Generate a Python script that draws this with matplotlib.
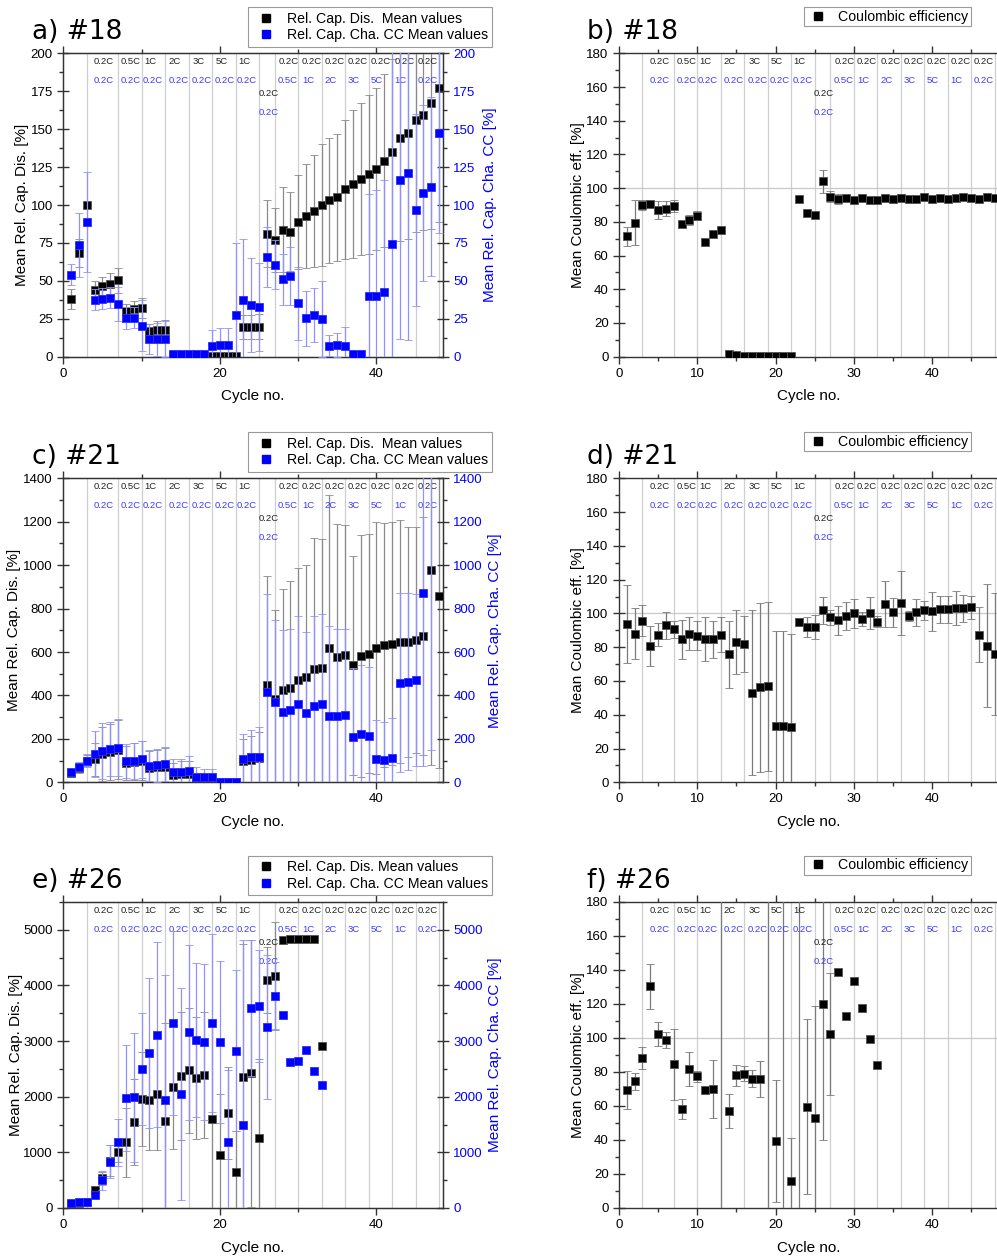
import numpy as np
import matplotlib
matplotlib.use('Agg')
import matplotlib.pyplot as plt
from matplotlib.ticker import MultipleLocator
from matplotlib.lines import Line2D

plt.rcParams['font.family'] = ['Liberation Sans', 'DejaVu Sans']

nan = np.nan
# ---------------- data ----------------
cycles48 = np.arange(1, 49)
cycles33 = np.arange(1, 34)

# a) #18
dis_a = [38, 68.4, 100, 44, 46.4, 48, 50.3, 29.8, 31.3, 32.2, 16.8, 17.4, 17.9, 0.5, 0.5, 0.5, 0.5, 0.5,
         0.4, 0.4, 0.4, 0.4, 19.4, 19.4, 19.9, 81.2, 77, 83.7, 82.3, 88.7, 92.7, 96, 100, 103, 105, 110.3,
         113.8, 117, 120.4, 123.7, 129.2, 135.1, 144, 147.7, 156, 159.3, 167.4, 177]
dis_a_err = [6.5, 9, 0, 6, 6, 7, 8.5, 5, 5.5, 6.5, 5, 6, 6.5, 0, 0, 0, 0, 0, 0, 0, 0, 0, 8, 8, 8, 22, 21,
             28, 26, 31, 34, 37, 40, 41, 42, 46, 49, 50, 52.4, 53.3, 57, 61, 68, 70, 74, 76, 83, 88]
cha_a = [54, 73.5, 89, 37.7, 38.3, 39, 34.7, 25.5, 25.8, 20.5, 11.5, 11.5, 11.5, 1.5, 1.5, 1.5, 1.5, 1.5,
         7.3, 7.7, 7.7, 27.8, 37.5, 34, 32.7, 65.8, 60.7, 51, 53.4, 35.3, 25.2, 27.6, 24.7, 7.3, 7.7, 7.3,
         1.5, 1.5, 40, 40, 42.6, 74.6, 116.5, 120.9, 96.7, 107.7, 112, 147.3]
cha_a_err = [7, 21, 33, 7, 7, 7, 11, 7, 7, 17, 10, 11, 12, 0.5, 0.5, 0.5, 0.5, 0.5, 10, 11, 11.5, 47, 40,
             31, 29, 20, 16, 17, 19, 24, 18, 18, 25, 7, 8, 12, 0.5, 0.5, 67, 70, 74, 130, 105, 110, 63, 58,
             59, 66]

# b) #18
ce_b = [71.4, 79.5, 89.9, 90.7, 86.9, 87.9, 89.5, 78.7, 81.3, 83.7, 68.2, 72.6, 75.3, 1.4, 1.0, 0.6, 0.6,
        0.6, 0.6, 0.6, 0.6, 0.6, 93.8, 85.3, 84.3, 104, 95, 93.8, 94.2, 93, 94, 93.2, 93.2, 94.4, 93.4,
        94.4, 93.6, 93.6, 94.8, 93.6, 94.2, 93.4, 94.4, 95, 94, 93.6, 95, 94.4]
ce_b_err = [5.5, 13.5, 3, 1, 5.5, 4.5, 3.5, 1.5, 3, 2.5, 1, 1, 1, 0.5, 0.5, 0.3, 0.3, 0.3, 0.3, 0.3, 0.3,
            0.3, 1, 1.5, 1, 7, 3.5, 3, 1.5, 2, 1, 1, 1, 1, 1, 2, 1, 1, 1, 1, 1, 1, 1, 1, 1, 1.5, 1, 1]

# c) #21
dis_c = [45, 65, 100, 106, 130, 140, 150, 89, 95, 100, 67, 70, 72, 35, 38, 40, 14, 10, 8, 0, 0, 0, 100,
         105, 110, 449, 385, 423, 434, 470, 483, 520, 527, 619, 575, 584, 539, 582, 593, 619, 631, 639,
         648, 648, 657, 673, 980, 857]
dis_c_err = [15, 20, 25, 77, 126, 130, 135, 80, 85, 90, 75, 80, 85, 55, 58, 60, 30, 30, 30, 0, 0, 0, 100,
             110, 120, 500, 407, 465, 491, 517, 519, 605, 595, 702, 613, 602, 505, 559, 552, 581, 562,
             559, 558, 530, 521, 548, 900, 793]
cha_c = [49, 72, 100, 130, 145, 153, 159, 98, 98, 106, 77, 78, 83, 47, 48, 51, 26, 23, 23, 3, 3, 3, 106,
         115, 118, 415, 371, 325, 333, 360, 317, 351, 362, 306, 305, 308, 208, 222, 211, 106, 104, 110,
         458, 463, 470, 874, 1450, nan]
cha_c_err = [10, 20, 30, 107, 128, 126, 131, 80, 85, 86, 70, 75, 78, 60, 60, 68, 45, 40, 40, 2, 2, 2, 118,
             127, 135, 450, 378, 378, 375, 405, 373, 414, 415, 414, 403, 400, 320, 320, 322, 181, 176,
             184, 412, 407, 396, 800, 1300, nan]

# d) #21
ce_d = [93.7, 88.1, 95.8, 80.8, 87.5, 92.9, 90.7, 84.6, 88.1, 86.9, 84.8, 84.8, 87.5, 75.8, 83.2, 82,
        53.1, 56.2, 56.8, 33.5, 33.5, 32.9, 94.9, 91.9, 91.9, 101.8, 97.8, 96, 98.4, 100, 96.6, 100.4,
        95.2, 105.5, 100.6, 106.1, 98.4, 100.6, 101.8, 101.2, 102.4, 102.4, 103, 103, 103.6, 87.5, 81, 76]
ce_d_err = [23, 15, 9, 12, 7, 8, 5, 11.5, 9.5, 8.5, 13, 11, 10.5, 20, 19, 16.5, 49, 50, 50, 56, 56, 55,
            2.5, 6, 7, 8, 4.5, 8.5, 8.5, 8.5, 4, 9.5, 3, 13.5, 8.5, 19, 3, 8, 5.5, 11.5, 8, 8, 10, 8, 7,
            16.5, 36.5, 36]

# e) #26
dis_e = [80, 95, 100, 317, 533, 850, 1012, 1180, 1545, 1958, 1934, 2048, 1563, 2168, 2377, 2473, 2341,
         2395, 1605, 946, 1707, 641, 2353, 2419, 1251, 4097, 4169, 4813, 4843, 4843, 4843, 4843, 2916]
dis_e_err = [10, 15, 20, 50, 120, 280, 180, 620, 780, 850, 900, 1000, 1760, 1100, 1150, 1130, 1100, 1130,
             1700, 1100, 830, 750, 2400, 2400, 1420, 590, 975, 20, 20, 20, 20, 20, 0]
cha_e = [90, 102, 102, 234, 497, 832, 1180, 1976, 1988, 2503, 2784, 3114, 1940, 3326, 2048, 3160, 3018,
         2982, 3326, 2982, 1186, 2826, 1491, 3597, 3633, 3254, 3814, 3477, 2623, 2635, 2844, 2455, 2216]
cha_e_err = [10, 15, 15, 60, 170, 300, 420, 950, 1160, 1010, 1350, 1660, 2250, 1660, 1900, 1570, 1380,
             1400, 1600, 1450, 1300, 1450, 3330, 1220, 1000, 1300, 600, 0, 0, 0, 0, 0, 0]

# f) #26
ce_f = [69.5, 74.5, 88.2, 130.3, 102.2, 98.8, 84.5, 58.2, 81.7, 77.4, 69.5, 70.1, 250, 56.8, 78, 79, 76,
        76, 250, 39.3, 250, 15.9, 250, 59.5, 52.8, 120, 102.2, 138.9, 112.8, 133.8, 117.9, 99.4, 84.3]
ce_f_err = [11.3, 5, 6.5, 13.5, 7, 4.5, 21, 6, 10, 3, 1, 17, 300, 10, 6, 4.5, 5, 10.5, 300, 36, 300, 25,
            300, 51.5, 66, 80, 36, 0, 0, 0, 0, 0, 0]

# rate annotations
sep_cycles = [3, 7, 10, 13, 16, 19, 22, 25, 27, 30, 33, 36, 39, 42, 45, 48]
dis_rates = ['0.2C', '0.5C', '1C', '2C', '3C', '5C', '1C',
             '0.2C', '0.2C', '0.2C', '0.2C', '0.2C', '0.2C', '0.2C']
cha_rates = ['0.2C', '0.2C', '0.2C', '0.2C', '0.2C', '0.2C', '0.2C',
             '0.5C', '1C', '2C', '3C', '5C', '1C', '0.2C']
rate_x_dis = [3.9, 7.3, 10.3, 13.4, 16.5, 19.4, 22.3, 27.5, 30.4, 33.4, 36.3, 39.3, 42.3, 45.3]
rate_x_cha = [3.9, 7.3, 10.1, 13.4, 16.4, 19.3, 22.2, 27.4, 30.5, 33.4, 36.3, 39.3, 42.3, 45.3]
mid_rate = '0.2C'
mid_rate_x = 24.9

# ---------------- layout ----------------
W, H = 997, 1259
fig = plt.figure(figsize=(W / 100, H / 100), dpi=100)
fig.patch.set_facecolor('white')

LX0, LX1 = 63.3, 443.0
RX0 = 619.0
RX1 = RX0 + (LX1 - LX0)
rows = [(53.3, 356.7), (478.3, 782.3), (902.0, 1208.0)]

BLUE = '#0000ff'
LBLUE = '#3a3aff'
ERR_K = '#8a8a8a'
ERR_B = '#9090ff'
TICK_FS = 9.5
LAB_FS = 11
RATE_FS = 6.8


def make_axes(x0, x1, yt, yb):
    return fig.add_axes([x0 / W, 1 - yb / H, (x1 - x0) / W, (yb - yt) / H])


def style_axes(ax, xmaj, xmin, ymaj, ymin):
    ax.set_xlim(0, 48.5)
    ax.xaxis.set_major_locator(MultipleLocator(xmaj))
    ax.xaxis.set_minor_locator(MultipleLocator(xmin))
    ax.yaxis.set_major_locator(MultipleLocator(ymaj))
    ax.yaxis.set_minor_locator(MultipleLocator(ymin))
    ax.tick_params(axis='x', which='major', direction='out', length=5, width=1, top=True,
                   labelsize=TICK_FS, pad=3, color='#333333')
    ax.tick_params(axis='x', which='minor', direction='out', length=3, width=1, top=True, color='#333333')
    ax.tick_params(axis='y', which='major', direction='inout', length=8, width=1, right=False,
                   labelsize=TICK_FS, color='#333333')
    ax.tick_params(axis='y', which='minor', direction='out', length=3, width=1, right=False, color='#333333')
    for s in ax.spines.values():
        s.set_color('#333333')
        s.set_linewidth(1.0)
    for xv in sep_cycles:
        ax.axvline(xv, color='#cfcfcf', lw=0.9, zorder=0)
    tr = ax.get_xaxis_transform()
    for t, xv in zip(dis_rates, rate_x_dis):
        ax.text(xv, 0.972, t, transform=tr, fontsize=RATE_FS, color='#222222', ha='left', va='center', zorder=5)
    for t, xv in zip(cha_rates, rate_x_cha):
        ax.text(xv, 0.910, t, transform=tr, fontsize=RATE_FS, color=LBLUE, ha='left', va='center', zorder=5)
    ax.text(mid_rate_x, 0.868, mid_rate, transform=tr, fontsize=RATE_FS, color='#222222', ha='left',
            va='center', zorder=5)
    ax.text(mid_rate_x, 0.804, mid_rate, transform=tr, fontsize=RATE_FS, color=LBLUE, ha='left',
            va='center', zorder=5)
    ax.set_xlabel('Cycle no.', fontsize=LAB_FS)
    ax.xaxis.set_label_coords(0.5, -0.108)


def plot_series(ax, x, y, e, color, ecolor, mec):
    ax.errorbar(x, y, yerr=e, fmt='s', color=color, ecolor=ecolor, elinewidth=0.9, capsize=3,
                capthick=0.9, markersize=6.2, markeredgecolor=mec, markeredgewidth=0.6, zorder=3)


def cap_panel(ax_idx, dis, dis_e, cha, cha_e, x, ylim, ymaj, ymin, ylab_x, rlab_x, title, legtxt):
    yt, yb = rows[ax_idx]
    ax = make_axes(LX0, LX1, yt, yb)
    style_axes(ax, 20, 10, ymaj, ymin)
    ax.set_ylim(*ylim)
    plot_series(ax, x, dis, dis_e, 'black', ERR_K, '#555555')
    ax.set_ylabel('Mean Rel. Cap. Dis. [%]', fontsize=LAB_FS)
    ax.yaxis.set_label_coords(ylab_x, 0.5)
    ax2 = ax.twinx()
    ax2.set_ylim(*ylim)
    ax2.yaxis.set_major_locator(MultipleLocator(ymaj))
    ax2.yaxis.set_minor_locator(MultipleLocator(ymin))
    ax2.tick_params(axis='y', which='major', direction='inout', length=8, width=1, labelsize=TICK_FS,
                    labelcolor=BLUE, color='#333333')
    ax2.tick_params(axis='y', which='minor', direction='out', length=3, width=1, color='#333333')
    for s in ax2.spines.values():
        s.set_color('#333333')
    plot_series(ax2, x, cha, cha_e, BLUE, ERR_B, '#3030ff')
    ax2.set_ylabel('Mean Rel. Cap. Cha. CC [%]', fontsize=LAB_FS, color=BLUE, rotation=90)
    ax2.yaxis.set_label_coords(rlab_x, 0.5)
    fig.text(32 / W, 1 - (yt - 14.5) / H, title, fontsize=19, family='DejaVu Sans', va='baseline')
    handles = [Line2D([], [], marker='s', ls='none', color='black', markersize=6),
               Line2D([], [], marker='s', ls='none', color=BLUE, markersize=6)]
    leg = fig.legend(handles, legtxt, loc='upper left', bbox_to_anchor=(248 / W, 1 - (yt - 46) / H),
                     borderaxespad=0, fancybox=False, edgecolor='#9a9a9a', framealpha=1, fontsize=10.2,
                     handlelength=2.0, handletextpad=0.45, borderpad=0.3, labelspacing=0.2)
    leg.get_frame().set_linewidth(0.8)
    return ax


def ce_panel(ax_idx, ce, ce_e, x, ylab_x, title):
    yt, yb = rows[ax_idx]
    ax = make_axes(RX0, RX1, yt, yb)
    style_axes(ax, 10, 5, 20, 10)
    ax.set_ylim(0, 180)
    ax.axhline(100, color='#c8c8c8', lw=0.9, zorder=0)
    plot_series(ax, x, ce, ce_e, 'black', '#7a7a7a', '#555555')
    ax.set_ylabel('Mean Coulombic eff. [%]', fontsize=LAB_FS)
    ax.yaxis.set_label_coords(ylab_x, 0.5)
    fig.text(587 / W, 1 - (yt - 14.5) / H, title, fontsize=19, family='DejaVu Sans', va='baseline')
    handles = [Line2D([], [], marker='s', ls='none', color='black', markersize=6)]
    leg = fig.legend(handles, ['Coulombic efficiency'], loc='upper left',
                     bbox_to_anchor=(804 / W, 1 - (yt - 46.5) / H), borderaxespad=0, fancybox=False,
                     edgecolor='#9a9a9a', framealpha=1, fontsize=10.2, handlelength=1.6,
                     handletextpad=0.6, borderpad=0.2, labelspacing=0.2)
    leg.get_frame().set_linewidth(0.8)
    return ax


cap_panel(0, dis_a, dis_a_err, cha_a, cha_a_err, cycles48, (0, 200), 25, 12.5, -0.09, 1.105, 'a) #18',
          ['Rel. Cap. Dis.  Mean values', 'Rel. Cap. Cha. CC Mean values'])
cap_panel(1, dis_c, dis_c_err, cha_c, cha_c_err, cycles48, (0, 1400), 200, 100, -0.112, 1.118, 'c) #21',
          ['Rel. Cap. Dis.  Mean values', 'Rel. Cap. Cha. CC Mean values'])
cap_panel(2, dis_e, dis_e_err, cha_e, cha_e_err, cycles33, (0, 5500), 1000, 500, -0.106, 1.118, 'e) #26',
          ['Rel. Cap. Dis. Mean values', 'Rel. Cap. Cha. CC Mean values'])

ce_panel(0, ce_b, ce_b_err, cycles48, -0.09, 'b) #18')
ce_panel(1, ce_d, ce_d_err, cycles48, -0.09, 'd) #21')
ce_panel(2, ce_f, ce_f_err, cycles33, -0.09, 'f) #26')

fig.savefig('out.png', dpi=100, facecolor='white')
